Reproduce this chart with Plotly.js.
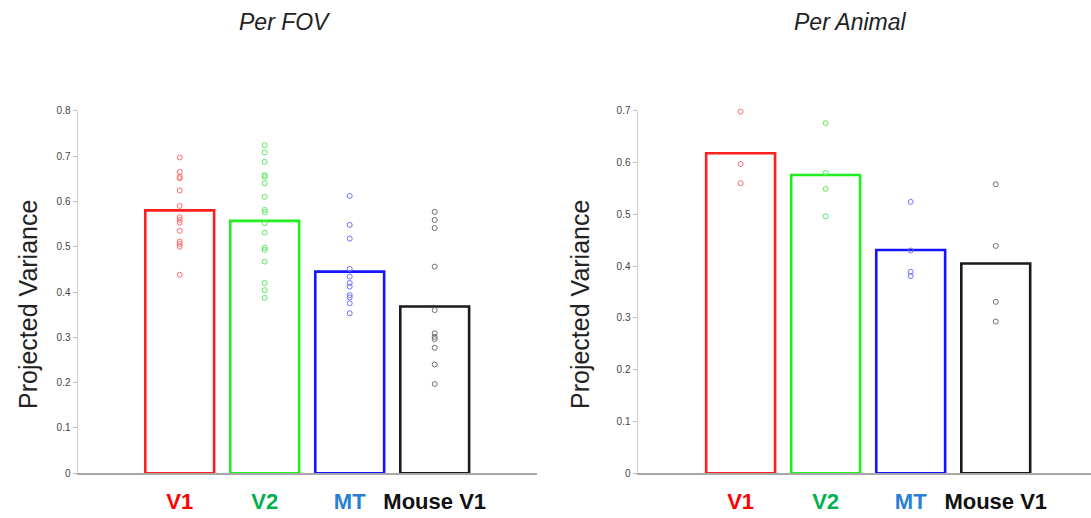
<!DOCTYPE html>
<html>
<head>
<meta charset="utf-8">
<script src="https://cdn.plot.ly/plotly-3.0.1.min.js"></script>
<style>html,body{margin:0;padding:0;background:#fff;}#chart{width:1091px;height:518px;}</style>
</head>
<body>
<div id="chart"></div>
<script>
// ---- data ----
const categories = ['V1', 'V2', 'MT', 'Mouse V1'];
const categoryPos = [1, 2, 3, 4];
const labelColors = ['#ff0000', '#00b050', '#2a7fd4', '#111111'];
const barColors = ['#ff1f1f', '#1fee1f', '#1414ff', '#1a1a1a'];
const pointColors = ['#ff6a6a', '#5ee85e', '#7070ff', '#707070'];

const fovBars = [0.580, 0.557, 0.445, 0.368];
const animalBars = [0.618, 0.576, 0.431, 0.405];

const fovV1 = [0.697, 0.665, 0.654, 0.651, 0.624, 0.590, 0.565, 0.559, 0.553, 0.535, 0.511, 0.506, 0.500, 0.438];
const fovV2 = [0.724, 0.708, 0.687, 0.658, 0.654, 0.640, 0.610, 0.581, 0.576, 0.552, 0.531, 0.498, 0.493, 0.467, 0.420, 0.404, 0.387];
const fovMT = [0.612, 0.548, 0.518, 0.451, 0.434, 0.420, 0.412, 0.393, 0.388, 0.375, 0.353];
const fovMouse = [0.577, 0.559, 0.541, 0.456, 0.360, 0.309, 0.301, 0.296, 0.277, 0.240, 0.197];

const animalV1 = [0.698, 0.597, 0.560];
const animalV2 = [0.676, 0.580, 0.549, 0.496];
const animalMT = [0.524, 0.430, 0.389, 0.381];
const animalMouse = [0.558, 0.439, 0.331, 0.293];

const panelTitles = ['Per FOV', 'Per Animal'];
const yTitle = 'Projected Variance';
const fovTicks = [0, 0.1, 0.2, 0.3, 0.4, 0.5, 0.6, 0.7, 0.8];
const animalTicks = [0, 0.1, 0.2, 0.3, 0.4, 0.5, 0.6, 0.7];

// ---- build traces ----
const FONT = 'Liberation Sans, Arial, sans-serif';
const traces = [];
function addPanel(bars, groups, xa, ya) {
  traces.push({
    type: 'bar', x: categoryPos, y: bars, xaxis: xa, yaxis: ya,
    width: 0.81,
    marker: { color: 'rgba(255,255,255,0)', line: { color: barColors, width: 2.6 } },
    hoverinfo: 'y', showlegend: false
  });
  groups.forEach((vals, i) => {
    traces.push({
      type: 'scatter', mode: 'markers', xaxis: xa, yaxis: ya,
      x: vals.map(() => categoryPos[i]), y: vals,
      marker: { symbol: 'circle-open', size: 5, color: pointColors[i], line: { width: 1, color: pointColors[i] } },
      showlegend: false, cliponaxis: false
    });
  });
}
addPanel(fovBars, [fovV1, fovV2, fovMT, fovMouse], 'x', 'y');
addPanel(animalBars, [animalV1, animalV2, animalMT, animalMouse], 'x2', 'y2');

const tickText = categories.map((c, i) => `<b><span style="color:${labelColors[i]}">${c}</span></b>`);

const W = 1091, H = 518;
const yBottom = 473.3, yTop = 110.7;
const ydom = [(H - yBottom) / H, (H - yTop) / H];

function xAxis(domain, range) {
  return {
    domain: domain, range: range, showgrid: false, zeroline: false,
    showline: true, linecolor: '#a8a8a8', linewidth: 1.5,
    tickmode: 'array', tickvals: categoryPos, ticktext: tickText,
    ticks: 'outside', ticklen: 8, tickcolor: 'rgba(0,0,0,0)',
    tickfont: { family: FONT, size: 22, color: '#111' }, fixedrange: true
  };
}
function yAxis(range, ticks, anchor) {
  return {
    domain: ydom, range: range, anchor: anchor, showgrid: false, zeroline: false,
    showline: true, linecolor: '#cfcfcf', linewidth: 1.2,
    tickmode: 'array', tickvals: ticks, ticktext: ticks.map(String),
    ticks: 'outside', ticklen: 4, tickcolor: '#bdbdbd',
    tickfont: { family: FONT, size: 10, color: '#444' }, fixedrange: true
  };
}

const layout = {
  width: W, height: H,
  margin: { l: 0, r: 0, t: 0, b: 0 },
  paper_bgcolor: '#fff', plot_bgcolor: 'rgba(0,0,0,0)',
  showlegend: false, bargap: 0,
  xaxis: Object.assign(xAxis([77.7 / W, 536.7 / W], [-0.2, 5.2]), { anchor: 'y' }),
  yaxis: yAxis([0, 0.8], fovTicks, 'x'),
  xaxis2: Object.assign(xAxis([637.7 / W, 1], [-0.21, 5.12]), { anchor: 'y2' }),
  yaxis2: yAxis([0, 0.7], animalTicks, 'x2'),
  annotations: [
    { text: '<i>' + panelTitles[0] + '</i>', x: 285 / W, y: 1 - 22 / H, xref: 'paper', yref: 'paper', showarrow: false,
      xanchor: 'center', yanchor: 'middle', font: { family: FONT, size: 23, color: '#222' } },
    { text: '<i>' + panelTitles[1] + '</i>', x: 851 / W, y: 1 - 22 / H, xref: 'paper', yref: 'paper', showarrow: false,
      xanchor: 'center', yanchor: 'middle', font: { family: FONT, size: 23, color: '#222' } },
    { text: yTitle, textangle: -90, x: 28 / W, y: 1 - 305 / H, xref: 'paper', yref: 'paper', showarrow: false,
      xanchor: 'center', yanchor: 'middle', font: { family: FONT, size: 25, color: '#222' } },
    { text: yTitle, textangle: -90, x: 580 / W, y: 1 - 305 / H, xref: 'paper', yref: 'paper', showarrow: false,
      xanchor: 'center', yanchor: 'middle', font: { family: FONT, size: 25, color: '#222' } }
  ]
};

Plotly.newPlot('chart', traces, layout, { displayModeBar: false, staticPlot: true });
</script>
</body>
</html>
